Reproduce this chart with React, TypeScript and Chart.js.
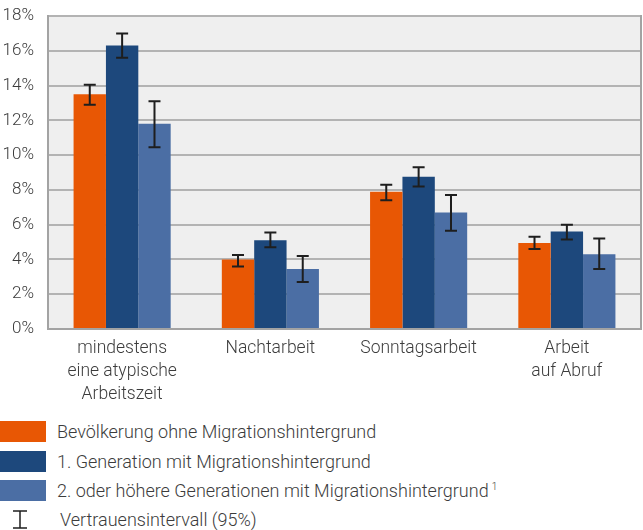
import React, { useEffect, useRef } from "react";
import { Chart, registerables } from "chart.js";

Chart.register(...registerables);

const categories: string[][] = [
  ["mindestens", "eine atypische", "Arbeitszeit"],
  ["Nachtarbeit"],
  ["Sonntagsarbeit"],
  ["Arbeit", "auf Abruf"],
];
const seriesNames = [
  "Bevölkerung ohne Migrationshintergrund",
  "1. Generation mit Migrationshintergrund",
  "2. oder höhere Generationen mit Migrationshintergrund",
];
const colors = ["#e85704", "#1d487c", "#4b6ea4"];
const valuesOhne = [13.5, 4.0, 7.9, 4.95];
const valuesGen1 = [16.3, 5.1, 8.75, 5.6];
const valuesGen2 = [11.8, 3.45, 6.7, 4.3];
const lowOhne = [12.9, 3.6, 7.4, 4.6];
const highOhne = [14.05, 4.25, 8.3, 5.3];
const lowGen1 = [15.6, 4.7, 8.2, 5.15];
const highGen1 = [17.0, 5.55, 9.3, 6.0];
const lowGen2 = [10.45, 2.7, 5.65, 3.45];
const highGen2 = [13.1, 4.2, 7.7, 5.2];
const yTicks = [0, 2, 4, 6, 8, 10, 12, 14, 16, 18];
const ciLabel = "Vertrauensintervall (95%)";

const FONT = "Roboto, 'Noto Sans', sans-serif";

export default function App() {
  const ref = useRef<HTMLCanvasElement>(null);
  useEffect(() => {
    document.body.style.margin = "0";
    const lows = [lowOhne, lowGen1, lowGen2];
    const highs = [highOhne, highGen1, highGen2];
    const bgPlugin = {
      id: "bg",
      beforeDraw(chart: any) {
        const { ctx, chartArea: a } = chart;
        ctx.save();
        ctx.fillStyle = "#efefef";
        ctx.fillRect(a.left, a.top, a.right - a.left, a.bottom - a.top);
        ctx.restore();
      },
    };
    const errPlugin = {
      id: "err",
      afterDatasetsDraw(chart: any) {
        const { ctx } = chart;
        const y = chart.scales.y;
        ctx.save();
        ctx.strokeStyle = "#1e1e1e";
        ctx.lineWidth = 2;
        chart.data.datasets.forEach((_: any, di: number) => {
          const meta = chart.getDatasetMeta(di);
          meta.data.forEach((bar: any, i: number) => {
            const x = bar.x;
            const yl = y.getPixelForValue(lows[di][i]);
            const yh = y.getPixelForValue(highs[di][i]);
            ctx.beginPath();
            ctx.moveTo(x, yl);
            ctx.lineTo(x, yh);
            ctx.moveTo(x - 6, yl);
            ctx.lineTo(x + 6, yl);
            ctx.moveTo(x - 6, yh);
            ctx.lineTo(x + 6, yh);
            ctx.stroke();
          });
        });
        ctx.restore();
      },
    };
    const chart = new Chart(ref.current!, {
      type: "bar",
      data: {
        labels: categories,
        datasets: [valuesOhne, valuesGen1, valuesGen2].map((d, i) => ({
          label: seriesNames[i],
          data: d,
          backgroundColor: colors[i],
          borderWidth: 0,
          barPercentage: 1,
          categoryPercentage: 0.655,
        })),
      },
      options: {
        animation: false,
        responsive: false,
        maintainAspectRatio: false,
        layout: { padding: { top: 16, right: 2, left: 0, bottom: 0 } },
        plugins: { legend: { display: false }, tooltip: { enabled: false } },
        scales: {
          x: {
            grid: { display: false, drawTicks: false },
            border: { color: "#a3a3a3", width: 2 },
            ticks: {
              color: "#3c3c3c",
              font: { family: FONT, size: 17.5, weight: 300, lineHeight: 1.32 },
              padding: 8,
              maxRotation: 0,
              autoSkip: false,
            },
            afterFit(s: any) {
              s.height = 81;
              s.paddingLeft = 0;
              s.paddingRight = 0;
            },
          },
          y: {
            min: 0,
            max: 18,
            afterBuildTicks(s: any) {
              s.ticks = yTicks.map((v) => ({ value: v }));
            },
            grid: { color: "#b3b3b3", lineWidth: 2, drawTicks: false },
            border: { color: "#a3a3a3", width: 2 },
            ticks: {
              color: "#3c3c3c",
              font: { family: FONT, size: 17, weight: 300 },
              padding: 14,
              callback: (v: any) => v + "%",
            },
            afterFit(s: any) {
              s.width = 48;
              s.paddingTop = 0;
              s.paddingBottom = 0;
            },
          },
          y2: {
            position: "right",
            min: 0,
            max: 18,
            display: true,
            grid: { display: false, drawTicks: false },
            border: { color: "#a3a3a3", width: 2 },
            ticks: { display: false },
            afterFit(s: any) {
              s.width = 0;
              s.paddingTop = 0;
              s.paddingBottom = 0;
            },
          },
        },
      },
      plugins: [bgPlugin, errPlugin],
    });
    return () => chart.destroy();
  }, []);

  const textStyle: React.CSSProperties = {
    marginLeft: 11,
    fontSize: 18,
    fontWeight: 300,
    color: "#3c3c3c",
    whiteSpace: "nowrap",
  };

  const legendRow = (color: string, text: React.ReactNode, top: number) => (
    <div style={{ position: "absolute", left: 0, top, height: 21, display: "flex", alignItems: "center" }}>
      <div style={{ width: 46, height: 21, background: color }} />
      <div style={textStyle}>{text}</div>
    </div>
  );

  return (
    <div style={{ position: "relative", width: 643, height: 530, fontFamily: FONT, background: "#fff" }}>
      <canvas ref={ref} width={643} height={410} style={{ display: "block" }} />
      {legendRow(colors[0], seriesNames[0], 421)}
      {legendRow(colors[1], seriesNames[1], 451)}
      {legendRow(
        colors[2],
        <span>
          {seriesNames[2]}
          <sup style={{ fontSize: 10, marginLeft: 3 }}>1</sup>
        </span>,
        480
      )}
      <div style={{ position: "absolute", left: 0, top: 509, height: 21, display: "flex", alignItems: "center" }}>
        <svg width={46} height={21}>
          <line x1={20} y1={2} x2={20} y2={19} stroke="#1e1e1e" strokeWidth={1.5} />
          <line x1={13} y1={2} x2={27} y2={2} stroke="#1e1e1e" strokeWidth={1.5} />
          <line x1={13} y1={19} x2={27} y2={19} stroke="#1e1e1e" strokeWidth={1.5} />
        </svg>
        <div style={{ ...textStyle, marginLeft: 14 }}>{ciLabel}</div>
      </div>
    </div>
  );
}
